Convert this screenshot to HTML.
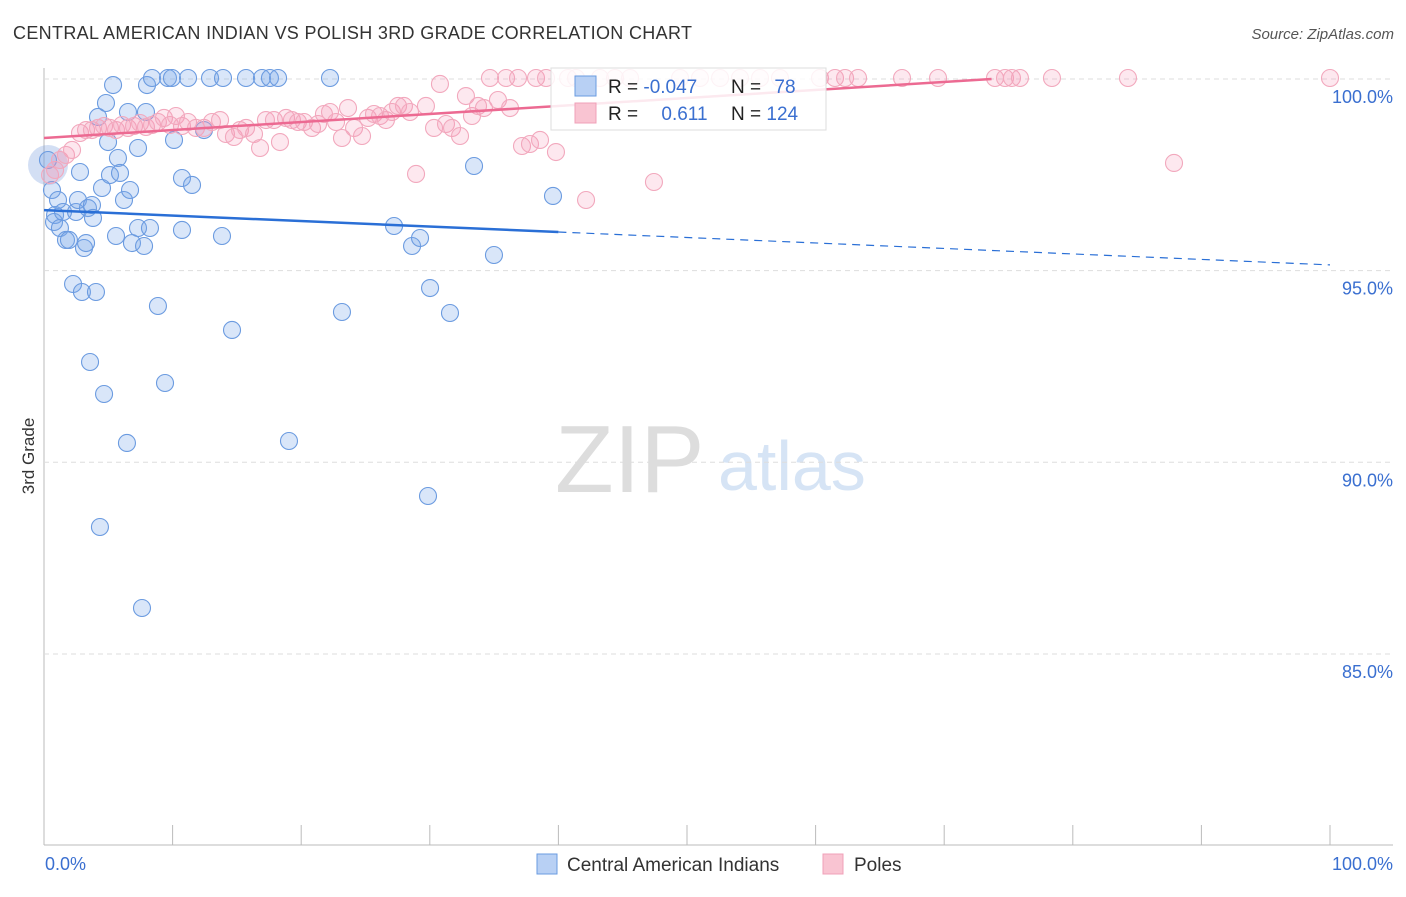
<!DOCTYPE html>
<html><head><meta charset="utf-8"><style>
body{margin:0;background:#fff;font-family:"Liberation Sans",sans-serif;}
svg text{font-family:"Liberation Sans",sans-serif;}
</style></head><body>
<svg id="c" width="1406" height="892">
<text x="13" y="39" font-size="18" fill="#333" textLength="679" lengthAdjust="spacing">CENTRAL AMERICAN INDIAN VS POLISH 3RD GRADE CORRELATION CHART</text>
<text x="1394" y="39" font-size="15" fill="#555" font-style="italic" text-anchor="end">Source: ZipAtlas.com</text>
<text x="34" y="456" font-size="17" fill="#333" text-anchor="middle" transform="rotate(-90 34 456)">3rd Grade</text>
<text x="555" y="492" font-size="96" fill="#ddd" font-family="Liberation Serif">ZIP</text>
<text x="718" y="490" font-size="70" fill="#d6e4f5">atlas</text>
<g id="grid"></g><g id="pts"></g><g id="trend"></g>
<g>
<rect x="551" y="68" width="275" height="62" fill="#fff" fill-opacity="0.85" stroke="#ddd"/>
<rect x="575" y="76" width="21" height="20" fill="#b8d0f4" stroke="#6a9be0"/>
<rect x="575" y="103" width="21" height="20" fill="#f9c4d2" stroke="#f0a0b8"/>
<text x="608" y="93" font-size="19" fill="#222">R = <tspan fill="#3a6fd0">-0.047</tspan></text>
<text x="731" y="93" font-size="19" fill="#222">N =  <tspan fill="#3a6fd0" dx="8">78</tspan></text>
<text x="608" y="120" font-size="19" fill="#222">R = <tspan fill="#3a6fd0" dx="18">0.611</tspan></text>
<text x="731" y="120" font-size="19" fill="#222">N = <tspan fill="#3a6fd0">124</tspan></text>
</g>
<g>
<rect x="537" y="854" width="20" height="20" fill="#b8d0f4" stroke="#6a9be0"/>
<text x="567" y="871" font-size="19" fill="#333">Central American Indians</text>
<rect x="823" y="854" width="20" height="20" fill="#f9c4d2" stroke="#f0a0b8"/>
<text x="854" y="871" font-size="19" fill="#333">Poles</text>
</g>
<text x="45" y="870" font-size="18" fill="#3a6fd0">0.0%</text>
<text x="1393" y="870" font-size="18" fill="#3a6fd0" text-anchor="end">100.0%</text>
</svg>
<script>
const yTicks=[100,95,90,85];
const yTickLabels=["100.0%","95.0%","90.0%","85.0%"];
const xTicks=[0,10,20,30,40,50,60,70,80,90,100];
const bluePx=[[48,160],[52,190],[55,215],[54,222],[58,200],[60,228],[63,212],[66,240],[69,240],[73,284],[76,212],[78,200],[80,172],[82,292],[84,248],[86,243],[88,208],[90,362],[92,205],[93,218],[96,292],[98,117],[100,527],[102,188],[104,394],[106,103],[108,142],[110,175],[113,85],[116,236],[118,158],[120,173],[124,200],[127,443],[128,112],[130,190],[132,243],[138,148],[138,228],[142,608],[144,246],[146,112],[147,85],[150,228],[152,78],[158,306],[165,383],[168,78],[172,78],[174,140],[182,178],[182,230],[188,78],[192,185],[204,130],[210,78],[222,236],[223,78],[232,330],[246,78],[262,78],[270,78],[278,78],[289,441],[330,78],[342,312],[394,226],[412,246],[420,238],[428,496],[430,288],[450,313],[474,166],[494,255],[553,196]];
const pinkPx=[[50,175],[55,170],[60,160],[66,155],[72,150],[80,133],[86,130],[92,130],[98,128],[104,126],[110,128],[116,130],[122,125],[128,128],[134,126],[140,123],[146,127],[152,125],[158,122],[164,118],[170,125],[176,116],[182,126],[188,122],[196,128],[204,128],[212,122],[220,120],[226,134],[234,137],[240,130],[246,128],[254,134],[260,148],[266,120],[274,120],[280,142],[286,118],[292,120],[298,122],[304,122],[312,128],[318,124],[324,114],[330,112],[336,122],[342,138],[348,108],[354,128],[362,136],[368,118],[374,114],[380,116],[386,120],[392,112],[398,106],[404,106],[410,112],[416,174],[426,106],[434,128],[440,84],[446,124],[452,128],[460,136],[466,96],[472,116],[478,106],[484,108],[490,78],[498,100],[506,78],[510,108],[518,78],[522,146],[530,144],[536,78],[540,140],[546,78],[556,152],[568,78],[576,78],[586,200],[600,78],[615,78],[630,78],[654,182],[680,78],[700,78],[720,78],[740,78],[760,78],[780,78],[820,78],[835,78],[845,78],[858,78],[902,78],[938,78],[995,78],[1005,78],[1012,78],[1020,78],[1052,78],[1128,78],[1174,163],[1330,78]];
const blueX=bluePx.map(p=>+((p[0]-44)/12.86).toFixed(2));
const blueY=bluePx.map(p=>+(100-(p[1]-79)/38.33).toFixed(3));
const pinkX=pinkPx.map(p=>+((p[0]-44)/12.86).toFixed(2));
const pinkY=pinkPx.map(p=>+(100-(p[1]-79)/38.33).toFixed(3));
const blueTrend=[96.58,95.15];
const pinkTrend=[98.46,100.55];
const xs=v=>44+v*12.86, ys=v=>79+(100-v)*38.33;
const NS="http://www.w3.org/2000/svg";
function mk(t,a,p){const e=document.createElementNS(NS,t);for(const k in a)e.setAttribute(k,a[k]);p.appendChild(e);return e;}
const g=document.getElementById('grid');
mk('line',{x1:44,y1:68,x2:44,y2:845,stroke:'#bbb'},g);
mk('line',{x1:44,y1:845,x2:1393,y2:845,stroke:'#bbb'},g);
yTicks.forEach((v,i)=>{
 const l=mk('line',{x1:44,y1:ys(v),x2:1393,y2:ys(v),stroke:'#ddd','stroke-dasharray':'5,4'},g);
 
 
 const t=mk('text',{x:1393,y:ys(v)+24,'font-size':18,fill:'#3a6fd0','text-anchor':'end'},g);
 t.textContent=yTickLabels[i];
 
 
});
xTicks.forEach(v=>{
 const l=mk('line',{x1:xs(v),y1:825,x2:xs(v),y2:845,stroke:'#bbb'},g);
 
 
});
const P=document.getElementById('pts');
const big1=mk('circle',{cx:48,cy:165,r:20,fill:'rgba(110,150,220,0.3)',stroke:'none'},P);


blueX.forEach((x,i)=>{
 const c=mk('circle',{cx:xs(x),cy:ys(blueY[i]),r:8.5,fill:'rgba(120,165,235,0.28)',stroke:'#6b9be0','stroke-width':1.1},P);
 
 
});
pinkX.forEach((x,i)=>{
 const c=mk('circle',{cx:xs(x),cy:ys(pinkY[i]),r:8.5,fill:'rgba(245,150,180,0.22)',stroke:'#f2a8bd','stroke-width':1.1},P);
 
 
});
const T=document.getElementById('trend');
const by=x=>blueTrend[0]+(blueTrend[1]-blueTrend[0])*x/100;
const b1=mk('line',{x1:xs(0),y1:ys(by(0)),x2:xs(40),y2:ys(by(40)),stroke:'#2a6fd6','stroke-width':2.5},T);


const b2=mk('line',{x1:xs(40),y1:ys(by(40)),x2:xs(100),y2:ys(by(100)),stroke:'#2a6fd6','stroke-width':1.2,'stroke-dasharray':'8,6'},T);


const py=x=>pinkTrend[0]+(pinkTrend[1]-pinkTrend[0])*x/100;
const xEnd=(100-pinkTrend[0])/(pinkTrend[1]-pinkTrend[0])*100;
const p1=mk('line',{x1:xs(0),y1:ys(py(0)),x2:xs(Math.min(100,xEnd)),y2:ys(py(Math.min(100,xEnd))),stroke:'#ec6a92','stroke-width':2.5},T);


</script>
</body></html>
